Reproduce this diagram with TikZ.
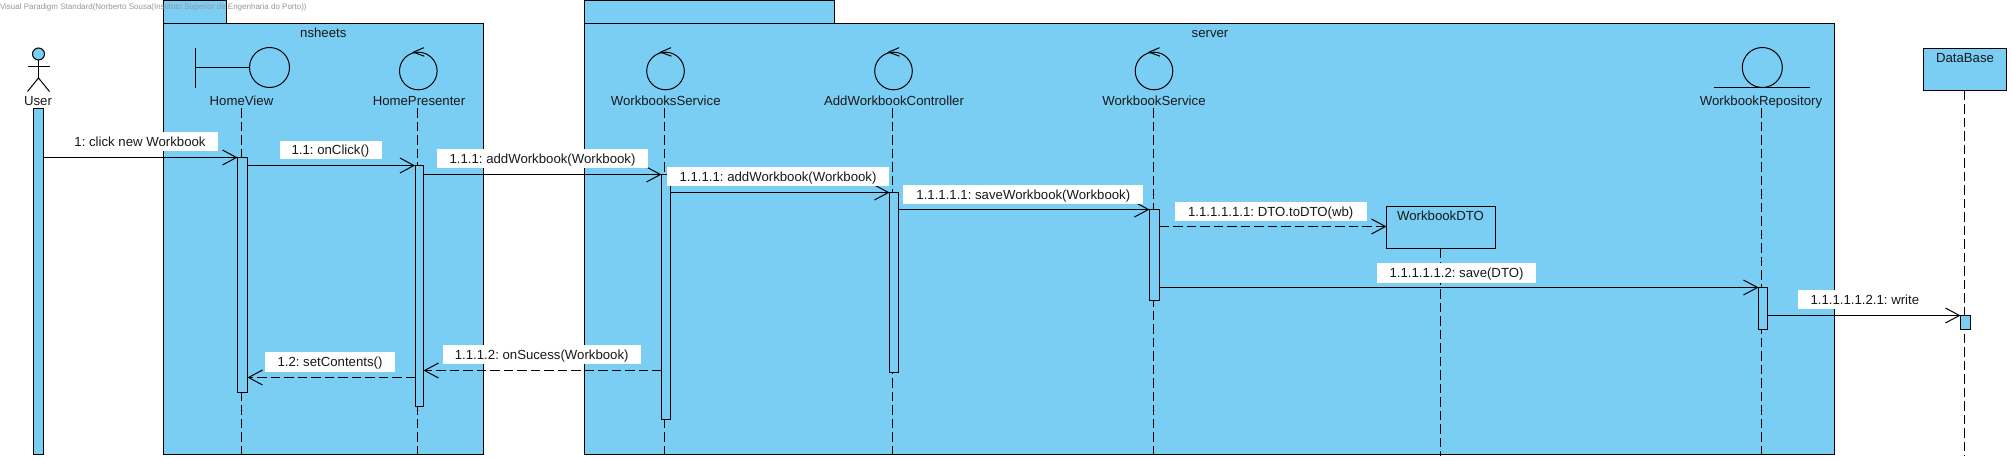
\documentclass[tikz,border=0pt]{standalone}
\usepackage{fontspec}
\setmainfont{Liberation Sans}
\usetikzlibrary{arrows.meta}
\frenchspacing
\definecolor{vpblue}{RGB}{122,206,244}
\definecolor{wmgray}{RGB}{150,150,150}
\tikzset{
  x=1pt,y=-1pt,
  every node/.style={inner sep=0pt,outer sep=0pt},
  uml/.style={line width=1pt,draw=black},
  pkg/.style={uml,fill=vpblue,anchor=north west},
  actbar/.style={uml,fill=vpblue,anchor=north west},
  objbox/.style={uml,fill=vpblue,anchor=north west},
  sym/.style={uml,circle,fill=vpblue},
  txt/.style={font=\fontsize{13.2}{15}\selectfont,text=black!90,text height=12.5pt,text depth=2.5pt,align=center},
  msglabel/.style={txt,fill=white},
  life/.style={line width=1pt,dash pattern=on 9.5pt off 4pt},
  msg/.style={line width=1pt,-{Straight Barb[length=14pt,width=15pt,line width=1pt]}},
  reply/.style={msg,dash pattern=on 9.5pt off 4pt},
  line/.style={line width=1pt}
}
\newcommand{\actbar}[5]{\node[actbar,minimum width=#3pt-#2pt,minimum height=#5pt-#4pt] (#1) at (#2,#4) {};}
\newcommand{\msglabel}[6]{\node[msglabel,minimum width=#4pt-#3pt,minimum height=#6pt-#5pt] (#1) at ({(#3+#4)/2},{(#5+#6)/2}) {#2};}
\begin{document}
\begin{tikzpicture}
\useasboundingbox (0,0) rectangle (2012,460);
% packages
\node[pkg,minimum width=62.5pt,minimum height=24pt] (tabN) at (163.5,0.5) {};
\node[pkg,minimum width=319.5pt,minimum height=430pt] (pkgN) at (163.5,24) {};
\node[pkg,minimum width=249.5pt,minimum height=24pt] (tabS) at (584.5,0.5) {};
\node[pkg,minimum width=1250pt,minimum height=430pt] (pkgS) at (584.5,24) {};
\node[txt] (lblN) at (323.3,32.7) {nsheets};
\node[txt] (lblS) at (1210,32.7) {server};
% lifeline ends
\coordinate (tHV) at (241.5,108); \coordinate (bHV) at (241.5,456);
\coordinate (tHP) at (417.5,108); \coordinate (bHP) at (417.5,456);
\coordinate (tWS) at (664.5,108); \coordinate (bWS) at (664.5,456);
\coordinate (tAC) at (892.5,108); \coordinate (bAC) at (892.5,456);
\coordinate (tWK) at (1153.5,108); \coordinate (bWK) at (1153.5,456);
\coordinate (tWR) at (1761.5,108); \coordinate (bWR) at (1761.5,456);
\coordinate (bDTO) at (1440.4,456);
\coordinate (bDB) at (1964.5,456);
% message levels
\coordinate (m1) at (0,157.5);
\coordinate (m2) at (0,165.5);
\coordinate (m3) at (0,174.5);
\coordinate (m4) at (0,192.5);
\coordinate (m5) at (0,209.5);
\coordinate (m6) at (0,226.5);
\coordinate (m7) at (0,287.5);
\coordinate (m8) at (0,315.5);
\coordinate (m9) at (0,370.5);
\coordinate (m10) at (0,377.5);
% object boxes
\node[objbox,minimum width=109pt,minimum height=42pt] (boxDTO) at (1386.5,206.5) {};
\node[objbox,minimum width=83pt,minimum height=42pt] (boxDB) at (1923.5,48.5) {};
\node[txt] (lblDTO) at (1440.5,215.7) {WorkbookDTO};
\node[txt] (lblDB) at (1965,58) {DataBase};
% lifelines
\draw[life] (tHV) -- (bHV);
\draw[life] (tHP) -- (bHP);
\draw[life] (tWS) -- (bWS);
\draw[life] (tAC) -- (bAC);
\draw[life] (tWK) -- (bWK);
\draw[life] (tWR) -- (bWR);
\draw[life] (boxDTO.south -| bDTO) -- (bDTO);
\draw[life] (boxDB.south -| bDB) -- (bDB);
% activations
\actbar{aU}{33.5}{43.5}{108.5}{454.5}
\actbar{aHV}{237.5}{247.5}{157.5}{392.7}
\actbar{aHP}{415}{423.5}{165.5}{406.5}
\actbar{aWS}{661.5}{670.5}{174.5}{419.7}
\actbar{aAC}{889.5}{898.5}{192.5}{372.5}
\actbar{aWK}{1149.5}{1159.5}{209.5}{300.7}
\actbar{aWR}{1758.5}{1767.5}{287.5}{329.5}
\actbar{aDB}{1960.5}{1970.5}{315.5}{329.5}
% actor
\node[sym,minimum size=12pt] (uHead) at (38.5,54) {};
\coordinate (uHip) at (38.5,78);
\coordinate (uArmL) at (28,67); \coordinate (uArmR) at (49.5,67);
\coordinate (uFootL) at (27.5,91.5); \coordinate (uFootR) at (49.5,91.5);
\draw[line] (uHead.south) -- (uHip);
\draw[line] (uArmL) -- (uArmR);
\draw[line] (uFootL) -- (uHip) -- (uFootR);
\node[txt] (lblU) at (38,100) {User};
% boundary
\node[sym,minimum size=40pt] (cHV) at (269.5,67.5) {};
\coordinate (bndT) at (195.5,48); \coordinate (bndB) at (195.5,87.5); \coordinate (bndM) at (195.5,67.5);
\draw[line] (bndT) -- (bndB);
\draw[line] (bndM) -- (cHV.west);
\node[txt] (lblHV) at (241.5,100) {HomeView};
% controls
\node[sym,minimum size=37.6pt] (cHP) at (418.3,71) {};
\node[sym,minimum size=37.6pt] (cWS) at (665.5,71) {};
\node[sym,minimum size=37.6pt] (cAC) at (893.5,71) {};
\node[sym,minimum size=37.6pt] (cWK) at (1154,71) {};
\foreach \c in {cHP,cWS,cAC,cWK}{
  \draw[line] ([xshift=5.5pt,yshift=4.5pt]\c.north) -- ([xshift=-5pt,yshift=0pt]\c.north) -- ([xshift=6pt,yshift=-4pt]\c.north);
}
\node[txt] (lblHP) at (419,100) {HomePresenter};
\node[txt] (lblWS) at (665.7,100) {WorkbooksService};
\node[txt] (lblAC) at (894,100) {AddWorkbookController};
\node[txt] (lblWK) at (1154,100) {WorkbookService};
% entity
\node[sym,minimum size=40pt] (cWR) at (1762.3,67.5) {};
\coordinate (entL) at (1714,87.5); \coordinate (entR) at (1810,87.5);
\draw[line] (entL) -- (entR);
\node[txt] (lblWR) at (1761,100) {WorkbookRepository};
% messages
\draw[msg] (aU.east |- m1) -- (aHV.west |- m1);
\draw[msg] (aHV.east |- m2) -- (aHP.west |- m2);
\draw[msg] (aHP.east |- m3) -- (aWS.west |- m3);
\draw[msg] (aWS.east |- m4) -- (aAC.west |- m4);
\draw[msg] (aAC.east |- m5) -- (aWK.west |- m5);
\draw[reply] (aWK.east |- m6) -- (boxDTO.west |- m6);
\draw[msg] (aWK.east |- m7) -- (aWR.west |- m7);
\draw[msg] (aWR.east |- m8) -- (aDB.west |- m8);
\draw[reply] (aWS.west |- m9) -- (aHP.east |- m9);
\draw[reply] (aHP.west |- m10) -- (aHV.east |- m10);
% message labels sit on top of lifelines, bars and package borders
\msglabel{l1}{1: click new Workbook}{62}{218}{132}{151}
\msglabel{l2}{1.1: onClick()}{279.5}{381.5}{141}{158.5}
\msglabel{l3}{1.1.1: addWorkbook(Workbook)}{437}{648}{149}{168}
\msglabel{l4}{1.1.1.1: addWorkbook(Workbook)}{667}{889}{167}{186}
\msglabel{l5}{1.1.1.1.1: saveWorkbook(Workbook)}{903.3}{1143.3}{185}{204}
\msglabel{l6}{1.1.1.1.1.1: DTO.toDTO(wb)}{1174.7}{1366.7}{202}{221}
\msglabel{l7}{1.1.1.1.1.2: save(DTO)}{1377.3}{1535.7}{263.3}{282.5}
\msglabel{l8}{1.1.1.1.1.2.1: write}{1797.7}{1932}{290}{309}
\msglabel{l9}{1.1.1.2: onSucess(Workbook)}{442.7}{640.7}{345}{364}
\msglabel{l10}{1.2: setContents()}{265}{395}{352}{371.5}
% watermark
\node[anchor=base west,font=\fontsize{8}{9}\selectfont,text=wmgray] (wm) at (0,10) {Visual Paradigm Standard(Norberto Sousa(Instituto Superior de Engenharia do Porto))};
\end{tikzpicture}
\end{document}
